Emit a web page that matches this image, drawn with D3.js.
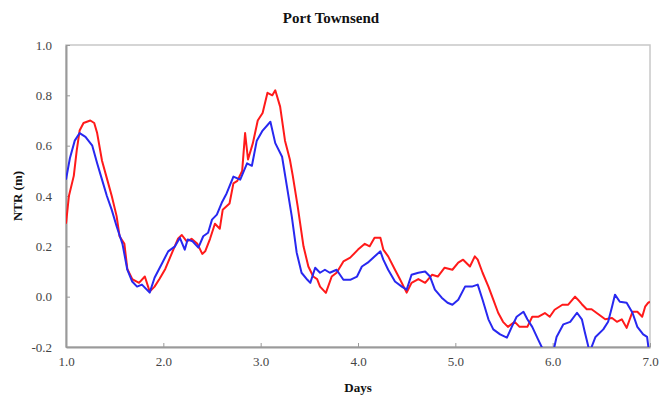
<!DOCTYPE html>
<html>
<head>
<meta charset="utf-8">
<script src="https://cdn.jsdelivr.net/npm/d3@7"></script>
<style>
  html, body { margin: 0; padding: 0; background: #fff; }
  svg { display: block; }
  text { font-family: "Liberation Serif", "Times New Roman", serif; }
</style>
</head>
<body>
<svg id="chart" width="660" height="398"></svg>
<script>
// Non-tidal residual at Port Townsend over one week
const chartTitle = "Port Townsend";
const xTicks = [1, 2, 3, 4, 5, 6, 7];
const yTicks = [-0.2, 0.0, 0.2, 0.4, 0.6, 0.8, 1.0];

// Red series (day, NTR in m)
const redDays = [1.00,1.03,1.08,1.11,1.14,1.18,1.25,1.29,1.32,1.37,1.42,1.47,1.52,1.55,1.60,1.63,1.68,1.75,1.81,1.86,1.91,1.96,2.02,2.09,2.15,2.19,2.24,2.29,2.35,2.40,2.43,2.48,2.53,2.58,2.61,2.68,2.72,2.76,2.81,2.84,2.87,2.92,2.97,3.02,3.07,3.12,3.15,3.20,3.25,3.30,3.33,3.38,3.44,3.49,3.54,3.58,3.61,3.67,3.73,3.78,3.85,3.92,4.00,4.07,4.12,4.17,4.23,4.26,4.31,4.38,4.43,4.50,4.55,4.62,4.69,4.76,4.82,4.89,4.97,5.03,5.08,5.15,5.20,5.23,5.28,5.34,5.39,5.44,5.49,5.54,5.61,5.66,5.74,5.79,5.85,5.92,5.97,6.02,6.10,6.16,6.23,6.26,6.30,6.35,6.40,6.47,6.54,6.61,6.66,6.71,6.76,6.82,6.87,6.92,6.95,6.98,7.00];
const redValues = [0.29,0.40,0.48,0.58,0.66,0.69,0.70,0.69,0.65,0.54,0.47,0.40,0.32,0.24,0.21,0.11,0.07,0.055,0.08,0.02,0.04,0.07,0.11,0.175,0.23,0.245,0.22,0.23,0.21,0.17,0.18,0.23,0.29,0.27,0.345,0.37,0.45,0.46,0.50,0.65,0.545,0.61,0.70,0.73,0.81,0.80,0.82,0.755,0.62,0.545,0.48,0.36,0.20,0.12,0.08,0.07,0.04,0.015,0.08,0.095,0.14,0.155,0.187,0.21,0.20,0.234,0.234,0.187,0.16,0.107,0.07,0.016,0.055,0.07,0.055,0.087,0.08,0.115,0.107,0.135,0.147,0.12,0.16,0.147,0.095,0.04,-0.012,-0.064,-0.10,-0.12,-0.10,-0.12,-0.12,-0.08,-0.08,-0.065,-0.08,-0.052,-0.032,-0.032,0.0,-0.012,-0.03,-0.05,-0.05,-0.07,-0.09,-0.085,-0.10,-0.09,-0.124,-0.06,-0.06,-0.08,-0.04,-0.025,-0.02];

// Blue series (day, NTR in m)
const blueDays = [1.00,1.04,1.09,1.14,1.20,1.27,1.32,1.37,1.42,1.47,1.52,1.58,1.63,1.68,1.73,1.78,1.83,1.86,1.91,1.99,2.05,2.12,2.17,2.22,2.25,2.30,2.36,2.41,2.46,2.50,2.55,2.60,2.65,2.72,2.79,2.86,2.91,2.96,3.02,3.10,3.15,3.22,3.27,3.32,3.37,3.42,3.48,3.51,3.56,3.61,3.66,3.71,3.78,3.85,3.92,3.99,4.04,4.10,4.17,4.23,4.26,4.31,4.38,4.45,4.50,4.55,4.62,4.69,4.74,4.79,4.86,4.92,4.97,5.03,5.10,5.17,5.23,5.28,5.34,5.39,5.46,5.53,5.58,5.63,5.70,5.74,5.79,5.85,5.90,5.95,6.00,6.04,6.11,6.18,6.25,6.30,6.33,6.38,6.44,6.52,6.57,6.61,6.64,6.69,6.76,6.82,6.87,6.93,6.97,6.99];
const blueValues = [0.465,0.55,0.62,0.65,0.635,0.60,0.53,0.465,0.40,0.345,0.28,0.21,0.107,0.06,0.04,0.048,0.028,0.016,0.075,0.135,0.18,0.20,0.234,0.187,0.227,0.22,0.195,0.24,0.254,0.306,0.326,0.373,0.41,0.477,0.465,0.53,0.52,0.62,0.66,0.695,0.61,0.556,0.437,0.318,0.175,0.095,0.067,0.055,0.115,0.095,0.107,0.095,0.107,0.067,0.067,0.08,0.12,0.135,0.16,0.18,0.147,0.107,0.06,0.04,0.028,0.087,0.095,0.10,0.08,0.028,-0.004,-0.024,-0.032,-0.012,0.04,0.04,0.048,-0.012,-0.09,-0.13,-0.15,-0.163,-0.12,-0.08,-0.06,-0.09,-0.12,-0.17,-0.21,-0.25,-0.23,-0.16,-0.11,-0.10,-0.064,-0.09,-0.14,-0.22,-0.16,-0.13,-0.10,-0.04,0.008,-0.02,-0.024,-0.064,-0.12,-0.15,-0.16,-0.22];

const svg = d3.select("#chart");
const plot = { left: 66, right: 650, top: 45, bottom: 347 };

const x = d3.scaleLinear().domain([1, 7]).range([plot.left, plot.right]);
const y = d3.scaleLinear().domain([-0.2, 1.0]).range([plot.bottom, plot.top]);

// Plot frame
svg.append("rect")
  .attr("x", plot.left).attr("y", plot.top)
  .attr("width", plot.right - plot.left).attr("height", plot.bottom - plot.top)
  .attr("fill", "none").attr("stroke", "#c8c8c8").attr("stroke-width", 1.5);

svg.append("defs").append("clipPath").attr("id", "plot-clip")
  .append("rect")
  .attr("x", plot.left).attr("y", plot.top)
  .attr("width", plot.right - plot.left).attr("height", plot.bottom - plot.top);

// Axes with inward ticks
const xAxis = d3.axisBottom(x).tickValues(xTicks).tickFormat(d3.format(".1f"))
  .tickSizeInner(-4).tickSizeOuter(0).tickPadding(10);
const yAxis = d3.axisLeft(y).tickValues(yTicks).tickFormat(d3.format(".1f"))
  .tickSizeInner(-4).tickSizeOuter(0).tickPadding(14);

const gx = svg.append("g").attr("transform", `translate(0,${plot.bottom})`).call(xAxis);
const gy = svg.append("g").attr("transform", `translate(${plot.left},0)`).call(yAxis);

[gx, gy].forEach(g => {
  g.select(".domain").attr("stroke", "#9a9a9a").attr("stroke-width", 2);
  g.selectAll(".tick line").attr("stroke", "#9a9a9a").attr("stroke-width", 1);
  g.selectAll(".tick text")
    .attr("fill", "#444")
    .style("font-family", '"Liberation Serif", "Times New Roman", serif')
    .style("font-size", "13px");
});
gy.selectAll(".tick text").text(d => d3.format(".1f")(d).replace("−", "-"));

// Series lines
const line = d3.line().x(d => x(d[0])).y(d => y(d[1]));
const lines = svg.append("g").attr("clip-path", "url(#plot-clip)");

lines.append("path")
  .datum(redDays.map((d, i) => [d, redValues[i]]))
  .attr("d", line).attr("fill", "none")
  .attr("stroke", "#ff1a1a").attr("stroke-width", 2).attr("stroke-linejoin", "round");

lines.append("path")
  .datum(blueDays.map((d, i) => [d, blueValues[i]]))
  .attr("d", line).attr("fill", "none")
  .attr("stroke", "#2828f0").attr("stroke-width", 2).attr("stroke-linejoin", "round");

// Titles
svg.append("text").attr("x", 331).attr("y", 23).attr("text-anchor", "middle")
  .style("font-size", "15px").style("font-weight", "bold").attr("fill", "#111")
  .text(chartTitle);

svg.append("text").attr("x", 358).attr("y", 392).attr("text-anchor", "middle")
  .style("font-size", "13px").style("font-weight", "bold").attr("fill", "#111")
  .text("Days");

svg.append("text")
  .attr("transform", "translate(22,196) rotate(-90)")
  .attr("text-anchor", "middle")
  .style("font-size", "13px").style("font-weight", "bold").attr("fill", "#111")
  .text("NTR (m)");
</script>
</body>
</html>
